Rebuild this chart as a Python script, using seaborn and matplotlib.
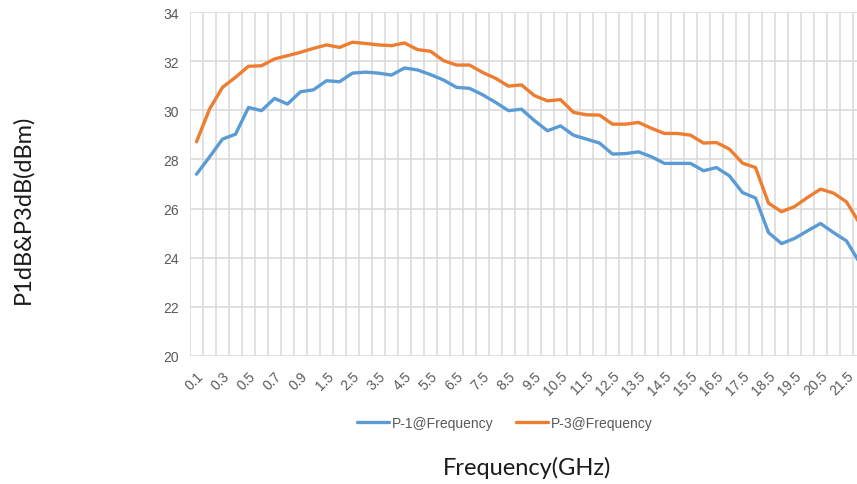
import numpy as np
import pandas as pd
import matplotlib
matplotlib.use("Agg")
import matplotlib.pyplot as plt
import seaborn as sns

freq_labels = ["0.1", "0.2", "0.3", "0.4", "0.5", "0.6", "0.7", "0.8", "0.9", "1.0",
               "1.5", "2", "2.5", "3", "3.5", "4", "4.5", "5", "5.5", "6",
               "6.5", "7", "7.5", "8", "8.5", "9", "9.5", "10", "10.5", "11",
               "11.5", "12", "12.5", "13", "13.5", "14", "14.5", "15", "15.5", "16",
               "16.5", "17", "17.5", "18", "18.5", "19", "19.5", "20", "20.5", "21",
               "21.5", "22"]

p1 = [27.40, 28.10, 28.83, 29.03, 30.12, 29.99, 30.49, 30.26, 30.76, 30.84,
      31.21, 31.17, 31.52, 31.56, 31.52, 31.44, 31.73, 31.65, 31.46, 31.24,
      30.94, 30.90, 30.64, 30.33, 29.99, 30.05, 29.58, 29.17, 29.37, 28.99,
      28.83, 28.67, 28.22, 28.24, 28.31, 28.11, 27.84, 27.84, 27.84, 27.54,
      27.67, 27.33, 26.65, 26.43, 25.02, 24.57, 24.78, 25.09, 25.39, 25.02,
      24.68, 23.80]

p3 = [28.72, 30.05, 30.94, 31.35, 31.80, 31.82, 32.10, 32.23, 32.37, 32.53,
      32.67, 32.57, 32.78, 32.73, 32.67, 32.64, 32.75, 32.48, 32.41, 32.03,
      31.85, 31.85, 31.55, 31.31, 30.99, 31.04, 30.60, 30.39, 30.44, 29.92,
      29.82, 29.81, 29.44, 29.44, 29.51, 29.27, 29.06, 29.06, 28.99, 28.67,
      28.69, 28.42, 27.85, 27.67, 26.22, 25.87, 26.08, 26.45, 26.79, 26.63,
      26.27, 25.40]

series_names = ["P-1@Frequency", "P-3@Frequency"]
colors = ["#5B9BD5", "#ED7D31"]
y_ticks = [20, 22, 24, 26, 28, 30, 32, 34]

n = len(freq_labels)
pos = np.arange(n) + 0.5
df = pd.concat([
    pd.DataFrame({"pos": pos, "value": p1, "series": series_names[0]}),
    pd.DataFrame({"pos": pos, "value": p3, "series": series_names[1]}),
])

sns.set_style("white")
plt.rcParams["font.family"] = ["Liberation Sans", "DejaVu Sans"]

W, H = 857, 485
fig = plt.figure(figsize=(W / 100, H / 100), dpi=100)
ax = fig.add_axes([190 / W, 1 - 356.7 / H, 676 / W, (356.7 - 13.3) / H])

sns.lineplot(data=df, x="pos", y="value", hue="series", palette=colors,
             linewidth=2.4, ax=ax, sort=False)

ax.set_xlim(0, n)
ax.set_ylim(20, 34)
ax.set_xticks(np.arange(0, n + 1))
ax.set_xticklabels([])
ax.set_xticks(pos[::2], minor=True)
ax.set_xticklabels(freq_labels[::2], minor=True, rotation=45, ha="right",
                   va="top", rotation_mode="anchor")
ax.set_yticks(y_ticks)
ax.set_yticklabels([str(v) for v in y_ticks])
ax.tick_params(axis="x", which="both", length=0, pad=9, labelsize=10,
               labelcolor="#595959")
ax.tick_params(axis="y", length=0, pad=8, labelsize=10, labelcolor="#595959")
ax.grid(True, which="major", color="#D9D9D9", linewidth=1.1)
ax.set_axisbelow(True)
for s in ax.spines.values():
    s.set_visible(False)
ax.set_xlabel("")
ax.set_ylabel("")

handles, labels = ax.get_legend_handles_labels()
ax.get_legend().remove()
fig.legend(handles, labels, loc="center", bbox_to_anchor=(505 / W, 1 - 424 / H),
           ncol=2, frameon=False, fontsize=10, handlelength=2.3,
           handletextpad=0.2, columnspacing=1.6, labelcolor="#595959")

fig.text(527 / W, 1 - 468 / H, "Frequency(GHz)", ha="center", va="center",
         fontsize=17, family=["Lato", "DejaVu Sans"], color="#1a1a1a")
fig.text(23 / W, 1 - 209 / H, "P1dB&P3dB(dBm)", ha="center", va="center",
         rotation=90, fontsize=17, family=["Lato", "DejaVu Sans"], color="#1a1a1a")

fig.savefig("out.png", dpi=100)
